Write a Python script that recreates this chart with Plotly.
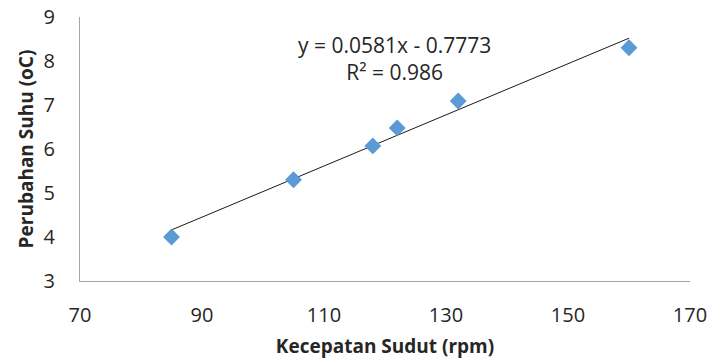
import plotly.graph_objects as go

speed_rpm = [85, 105, 118, 122, 132, 160]
temp_change = [4.0, 5.3, 6.07, 6.48, 7.09, 8.3]
trend_slope = 0.0581
trend_intercept = -0.7773
r_squared = 0.986
x_ticks = [70, 90, 110, 130, 150, 170]
y_ticks = [3, 4, 5, 6, 7, 8, 9]

trend_x = [min(speed_rpm), max(speed_rpm)]
trend_y = [trend_slope * v + trend_intercept for v in trend_x]

font_family = "Open Sans, Lato, sans-serif"

fig = go.Figure()
fig.add_trace(go.Scatter(
    x=trend_x, y=trend_y, mode="lines",
    line=dict(color="#1a1a1a", width=1), showlegend=False, hoverinfo="skip"))
fig.add_trace(go.Scatter(
    x=speed_rpm, y=temp_change, mode="markers",
    marker=dict(symbol="diamond", size=13, color="#5B9BD5"),
    showlegend=False))

fig.add_annotation(
    x=121.5, y=8.06, xref="x", yref="y",
    text=f"y = {trend_slope}x - {abs(trend_intercept)}<br>R² = {r_squared}",
    showarrow=False, align="center",
    font=dict(family=font_family, size=21, color="#262626"))

fig.update_layout(
    width=714, height=360,
    margin=dict(l=80, r=24, t=17, b=79),
    paper_bgcolor="white", plot_bgcolor="white",
    font=dict(family=font_family, size=20, color="#262626"),
    xaxis=dict(
        range=[70, 170], tickvals=x_ticks, ticks="", showgrid=False,
        zeroline=False, showline=True, linecolor="#A6A6A6", linewidth=1,
        ticklabelstandoff=16, automargin=False,
        title=dict(text="<b>Kecepatan Sudut (rpm)</b>", font=dict(size=19), standoff=12),
        tickfont=dict(size=20)),
    yaxis=dict(
        range=[3, 9], tickvals=y_ticks, ticks="", showgrid=False,
        zeroline=False, showline=True, linecolor="#A6A6A6", linewidth=1,
        ticklabelstandoff=20, automargin=False,
        title=dict(text="<b>Perubahan Suhu (oC)</b>", font=dict(size=19), standoff=4),
        tickfont=dict(size=20)),
)

fig.write_html("out.html")
